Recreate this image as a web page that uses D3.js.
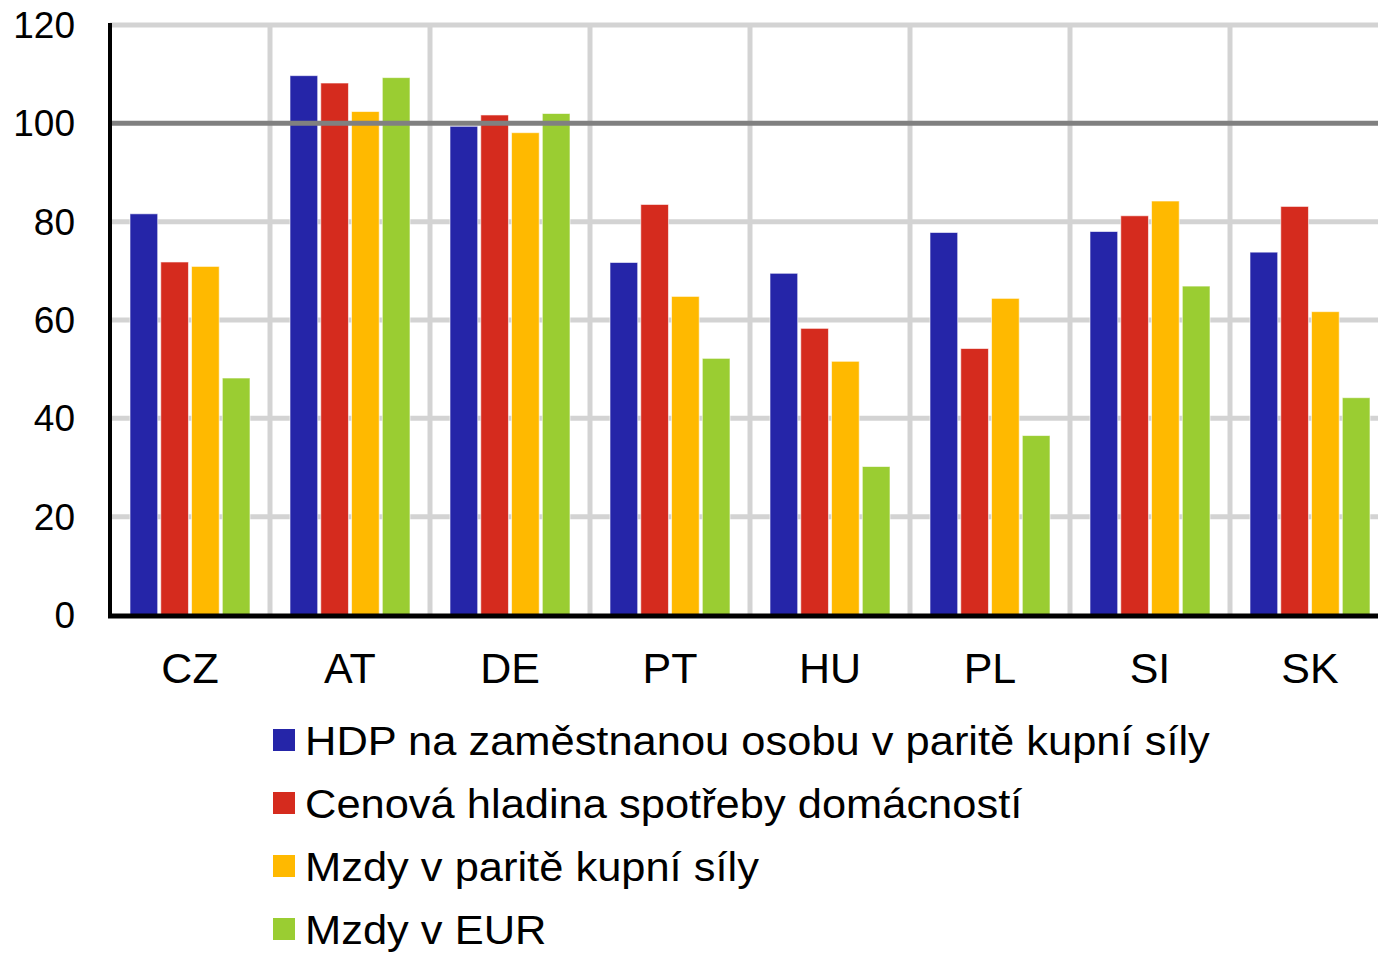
<!DOCTYPE html>
<html>
<head>
<meta charset="utf-8">
<script src="https://cdn.jsdelivr.net/npm/d3@7"></script>
<style>
  html, body { margin: 0; padding: 0; background: #fff; }
  svg { display: block; font-family: "Liberation Sans", Arial, sans-serif; }
</style>
</head>
<body>
<div id="chart"></div>
<script>
const countries = ['CZ', 'AT', 'DE', 'PT', 'HU', 'PL', 'SI', 'SK'];
const seriesNames = [
  'HDP na zaměstnanou osobu v paritě kupní síly',
  'Cenová hladina spotřeby domácností',
  'Mzdy v paritě kupní síly',
  'Mzdy v EUR'
];
const hdpValues = [81.6, 109.7, 99.4, 71.7, 69.5, 77.8, 78.0, 73.8];
const priceValues = [71.8, 108.2, 101.7, 83.5, 58.3, 54.2, 81.2, 83.1];
const wagePppValues = [70.9, 102.4, 98.1, 64.8, 51.6, 64.4, 84.2, 61.7];
const wageEurValues = [48.2, 109.3, 102.0, 52.2, 30.2, 36.5, 66.9, 44.2];
const yTicks = [0, 20, 40, 60, 80, 100, 120];
const colors = ['#2525a8', '#d52b1e', '#ffb900', '#9acd32'];

const allSeries = [hdpValues, priceValues, wagePppValues, wageEurValues];
const data = countries.map((c, i) => ({
  country: c,
  values: allSeries.map((s, j) => ({ key: j, value: s[i] }))
}));

const width = 1378, height = 954;
const svg = d3.select('#chart').append('svg')
  .attr('width', width).attr('height', height);

const x0 = d3.scaleBand().domain(countries).range([110, 1390]).padding(0);
const x1 = d3.scaleBand().domain(d3.range(4)).range([20, 140]).paddingInner(0.1);
const y = d3.scaleLinear().domain([0, 120]).range([615, 25]);

// grid
const grid = svg.append('g');
grid.selectAll('line.h')
  .data(yTicks.filter(t => t > 0 && t !== 100))
  .join('line')
  .attr('x1', 110).attr('x2', width)
  .attr('y1', d => y(d)).attr('y2', d => y(d))
  .attr('stroke', '#d3d3d3').attr('stroke-width', 5);
grid.selectAll('line.v')
  .data(countries.slice(1))
  .join('line')
  .attr('x1', d => x0(d)).attr('x2', d => x0(d))
  .attr('y1', y(120) - 2).attr('y2', y(0))
  .attr('stroke', '#d3d3d3').attr('stroke-width', 5);

// bars
const groups = svg.append('g').selectAll('g')
  .data(data)
  .join('g')
  .attr('transform', d => `translate(${x0(d.country)},0)`);
groups.selectAll('rect')
  .data(d => d.values)
  .join('rect')
  .attr('x', d => x1(d.key))
  .attr('width', x1.bandwidth())
  .attr('y', d => y(d.value))
  .attr('height', d => y(0) - y(d.value))
  .attr('fill', d => colors[d.key])
  .attr('stroke', '#fff')
  .attr('stroke-opacity', 0.6)
  .attr('stroke-width', 1);

// 100 line
svg.append('line')
  .attr('x1', 110).attr('x2', width)
  .attr('y1', y(100)).attr('y2', y(100))
  .attr('stroke', '#808080').attr('stroke-width', 5);

// axes lines
svg.append('line')
  .attr('x1', 110).attr('x2', 110)
  .attr('y1', y(120) - 2).attr('y2', y(0) + 2)
  .attr('stroke', '#000').attr('stroke-width', 4);
svg.append('line')
  .attr('x1', 108).attr('x2', width)
  .attr('y1', y(0) + 1).attr('y2', y(0) + 1)
  .attr('stroke', '#000').attr('stroke-width', 5);

// y tick labels
svg.append('g').selectAll('text')
  .data(yTicks)
  .join('text')
  .attr('x', 75)
  .attr('y', d => y(d))
  .attr('dy', '0.35em')
  .attr('text-anchor', 'end')
  .style('font-size', '37px')
  .text(d => d);

// category labels
svg.append('g').selectAll('text')
  .data(countries)
  .join('text')
  .attr('x', d => x0(d) + x0.bandwidth() / 2)
  .attr('y', 683)
  .attr('text-anchor', 'middle')
  .style('font-size', '43px')
  .text(d => d);

// legend
const legend = svg.append('g').selectAll('g')
  .data(seriesNames)
  .join('g')
  .attr('transform', (d, i) => `translate(273,${755 + i * 63})`);
legend.append('rect')
  .attr('x', 0).attr('y', -26)
  .attr('width', 22).attr('height', 22)
  .attr('fill', (d, i) => colors[i]);
legend.append('text')
  .attr('transform', 'translate(32,0) scale(1.06,1)')
  .style('font-size', '41px')
  .text(d => d);
</script>
</body>
</html>
